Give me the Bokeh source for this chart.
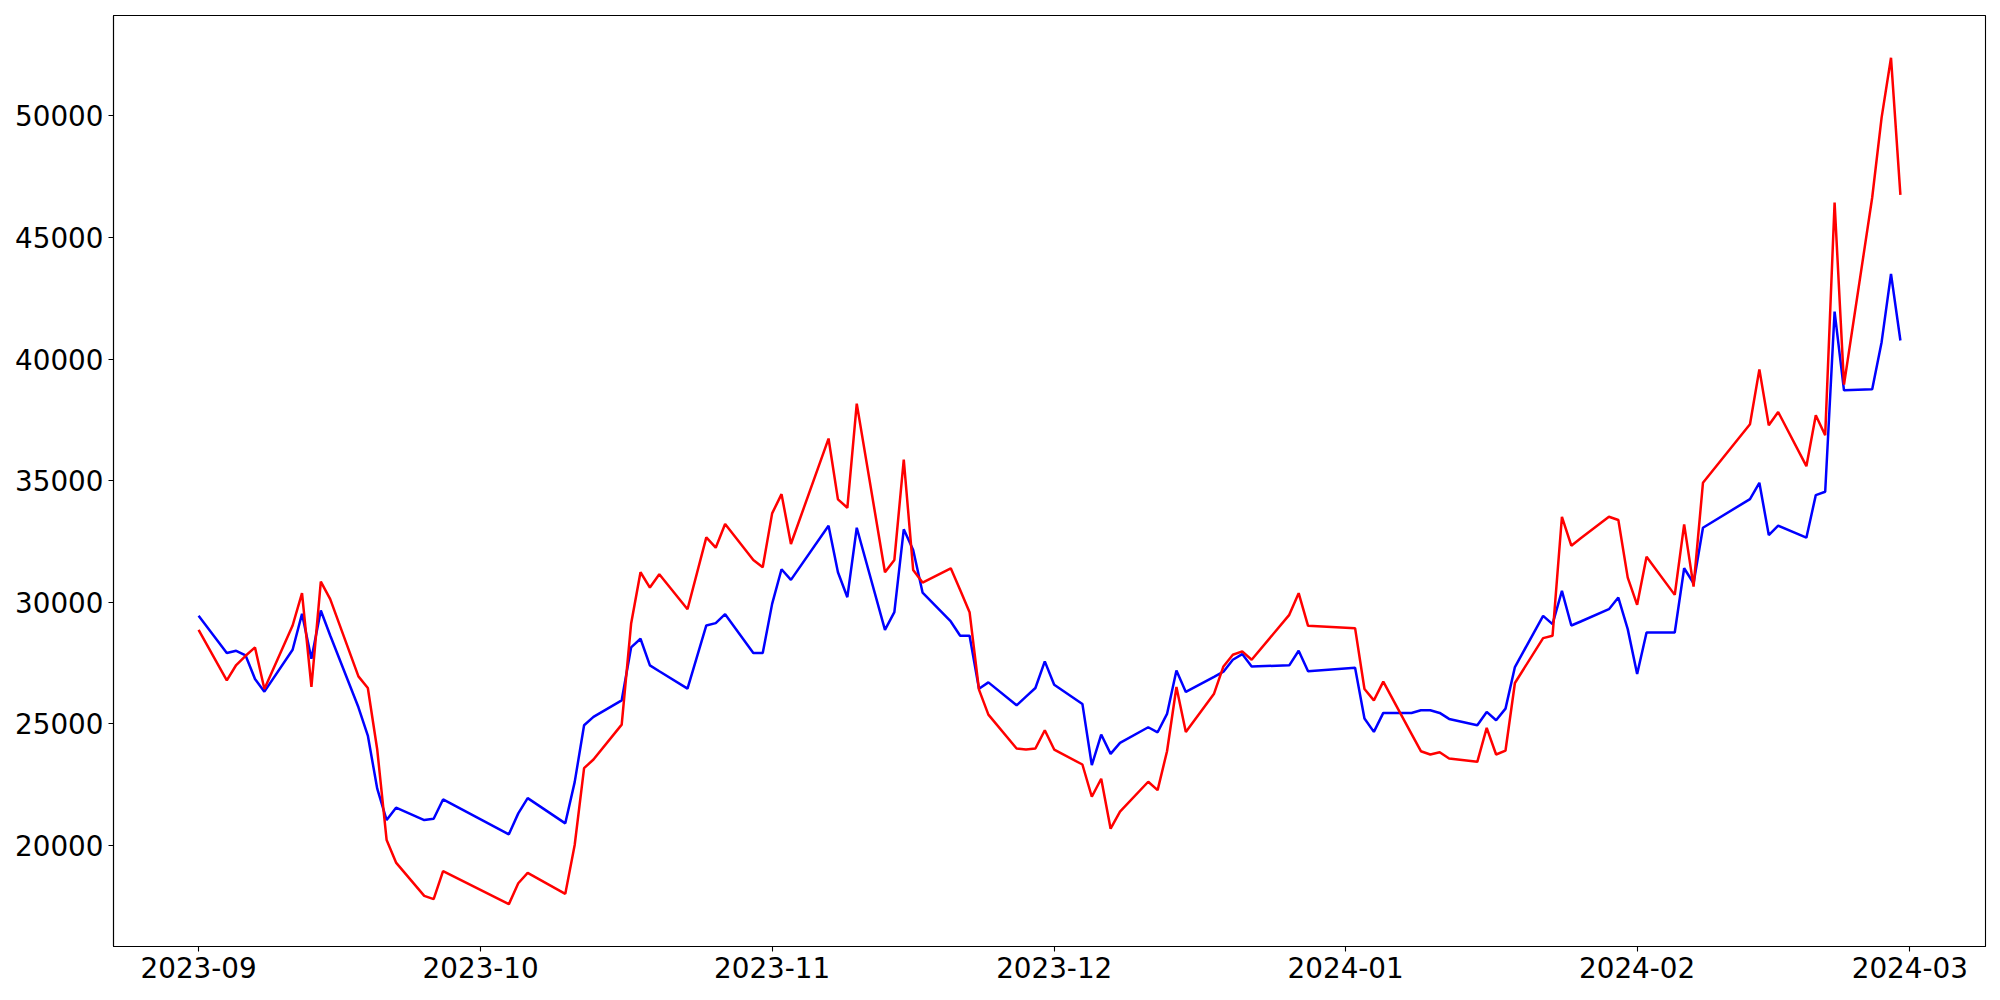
import pandas as pd
from bokeh.plotting import figure
from bokeh.models import (Range1d, MonthsTicker, DatetimeTickFormatter,
                          SingleIntervalTicker, NumeralTickFormatter)
from bokeh.embed import file_html
from bokeh.resources import INLINE

dates = [
    "2023-09-01", "2023-09-04", "2023-09-05", "2023-09-06", "2023-09-07", "2023-09-08",
    "2023-09-11", "2023-09-12", "2023-09-13", "2023-09-14", "2023-09-15",
    "2023-09-18", "2023-09-19", "2023-09-20", "2023-09-21", "2023-09-22",
    "2023-09-25", "2023-09-26", "2023-09-27",
    "2023-10-04", "2023-10-05", "2023-10-06",
    "2023-10-10", "2023-10-11", "2023-10-12", "2023-10-13",
    "2023-10-16", "2023-10-17", "2023-10-18", "2023-10-19", "2023-10-20",
    "2023-10-23", "2023-10-25", "2023-10-26", "2023-10-27",
    "2023-10-30", "2023-10-31", "2023-11-01", "2023-11-02", "2023-11-03",
    "2023-11-07", "2023-11-08", "2023-11-09", "2023-11-10",
    "2023-11-13", "2023-11-14", "2023-11-15", "2023-11-16", "2023-11-17",
    "2023-11-20", "2023-11-21", "2023-11-22", "2023-11-23", "2023-11-24",
    "2023-11-27", "2023-11-28", "2023-11-29", "2023-11-30", "2023-12-01",
    "2023-12-04", "2023-12-05", "2023-12-06", "2023-12-07", "2023-12-08",
    "2023-12-11", "2023-12-12", "2023-12-13", "2023-12-14", "2023-12-15",
    "2023-12-18", "2023-12-19", "2023-12-20", "2023-12-21", "2023-12-22",
    "2023-12-26", "2023-12-27", "2023-12-28",
    "2024-01-02", "2024-01-03", "2024-01-04", "2024-01-05",
    "2024-01-08", "2024-01-09", "2024-01-10", "2024-01-11", "2024-01-12",
    "2024-01-15", "2024-01-16", "2024-01-17", "2024-01-18", "2024-01-19",
    "2024-01-22", "2024-01-23", "2024-01-24", "2024-01-25", "2024-01-26",
    "2024-01-29", "2024-01-30", "2024-01-31", "2024-02-01", "2024-02-02",
    "2024-02-05", "2024-02-06", "2024-02-07", "2024-02-08",
    "2024-02-13", "2024-02-14", "2024-02-15", "2024-02-16",
    "2024-02-19", "2024-02-20", "2024-02-21", "2024-02-22", "2024-02-23",
    "2024-02-26", "2024-02-27", "2024-02-28", "2024-02-29",
]

blue_values = [
    29434, 27903, 27997, 27805, 26835, 26314,
    28038, 29515, 27669, 29653, 28625,
    25670, 24508, 22320, 21032, 21540,
    21032, 21087, 21880,
    20444, 21306, 21934,
    20896, 22591, 24931, 25276,
    25957, 28134, 28490, 27396, 27152,
    26437, 29037, 29133, 29503,
    27903, 27903, 29926, 31350, 30912,
    33141, 31227, 30201, 33059,
    28859, 29585, 32993, 32144, 30391,
    29201, 28613, 28613, 26437, 26696,
    25752, 26109, 26466, 27560, 26601,
    25810, 23289, 24549, 23756, 24208,
    24849, 24643, 25398, 27188, 26302,
    26925, 27135, 27627, 27861, 27352,
    27396, 27997, 27150,
    27300, 25206, 24659, 25439,
    25439, 25546, 25546, 25439, 25193,
    24931, 25480, 25136, 25616, 27326,
    29434, 29092, 30460, 29037, 29201,
    29707, 30186, 28887, 27040, 28749,
    28749, 31391, 30775, 33059,
    34237, 34906, 32759, 33141,
    32648, 34401, 34537, 41954, 38711,
    38752, 40694, 43501, 40764,
]

red_values = [
    28859, 26778, 27410, 27790, 28135, 26425,
    29037, 30365, 26507, 30842, 30119,
    26943, 26466, 23933, 20210, 19282,
    17913, 17776, 18926,
    17570, 18432, 18856,
    17994, 20006, 23166, 23522,
    24959, 29105, 31227, 30597, 31145,
    29707, 32663, 32238, 33210,
    31732, 31432, 33649, 34442, 32389,
    36728, 34224, 33880, 38165,
    31227, 31732, 35866, 31322, 30801,
    31391, 30501, 29585, 26396, 25370,
    23974, 23933, 23974, 24727, 23933,
    23317, 21990, 22730, 20677, 21375,
    22607, 22263, 23864, 26507, 24659,
    26232, 27352, 27833, 27970, 27627,
    29475, 30365, 29023,
    28928, 26425, 25957, 26725,
    24577, 23864, 23728, 23823, 23564,
    23427, 24823, 23728, 23892, 26671,
    28518, 28613, 33510, 32320, 32623,
    33510, 33375, 31006, 29886, 31868,
    30296, 33198, 30638, 34906,
    37315, 39573, 37274, 37820,
    35591, 37685, 36864, 46441, 38945,
    46646, 49932, 52393, 46757,
]

y_tick_interval = 5000

x = pd.to_datetime(dates)

# matplotlib-like 5% margins
x_min, x_max = x.min(), x.max()
x_pad = (x_max - x_min) * 0.05
all_vals = blue_values + red_values
y_min, y_max = min(all_vals), max(all_vals)
y_pad = (y_max - y_min) * 0.05

FONT = "DejaVu Sans"
FSIZE = "27.8px"

p = figure(
    width=1992, height=992,
    x_axis_type="datetime",
    x_range=Range1d(x_min - x_pad, x_max + x_pad),
    y_range=Range1d(y_min - y_pad, y_max + y_pad),
    output_backend="svg", toolbar_location=None,
    min_border_left=113, min_border_right=7,
    min_border_top=15, min_border_bottom=46,
)

p.line(x, blue_values, line_color="blue", line_width=2.5)
p.line(x, red_values, line_color="red", line_width=2.5)

p.xgrid.visible = False
p.ygrid.visible = False
p.outline_line_color = "black"
p.outline_line_width = 1.1
p.outline_line_alpha = 1.0
p.background_fill_color = "white"
p.border_fill_color = "white"

p.xaxis.ticker = MonthsTicker(months=list(range(1, 13)))
fmt = "%Y-%m"
p.xaxis.formatter = DatetimeTickFormatter(
    years=fmt, months=fmt, days=fmt, hours=fmt, minutes=fmt,
    seconds=fmt, milliseconds=fmt, microseconds=fmt, hourmin=fmt, minsec=fmt)
p.yaxis.ticker = SingleIntervalTicker(interval=y_tick_interval, num_minor_ticks=0)
p.yaxis.formatter = NumeralTickFormatter(format="0")

for ax in (p.xaxis, p.yaxis):
    ax.major_label_text_font = FONT
    ax.major_label_text_font_size = FSIZE
    ax.major_label_text_color = "black"
    ax.major_tick_out = 5
    ax.major_tick_in = 0
    ax.minor_tick_out = 0
    ax.minor_tick_in = 0
    ax.major_tick_line_color = "black"
    ax.major_tick_line_width = 1.1
    ax.axis_line_color = "black"
    ax.axis_line_width = 1.1
    ax.major_label_standoff = 5

open("out.html", "w").write(file_html(p, INLINE))
